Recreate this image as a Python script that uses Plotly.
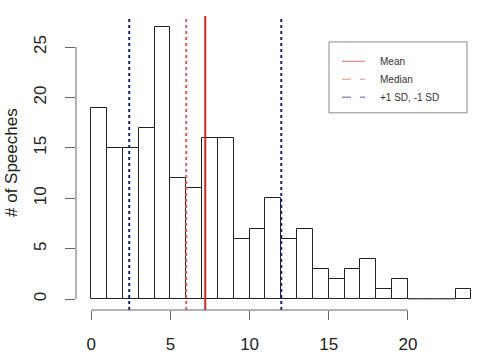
import plotly.graph_objects as go

# ---- data ----
bin_edges = list(range(0, 25))
counts = [19, 15, 15, 17, 27, 12, 11, 16, 16, 6, 7, 10, 6, 7, 3, 2, 3, 4, 1, 2, 0, 0, 0, 1]
mean_val = 7.2
median_val = 6.0
sd_low = 2.4
sd_high = 12.0
x_ticks = [0, 5, 10, 15, 20]
y_ticks = [0, 5, 10, 15, 20, 25]
legend_labels = ["Mean", "Median", "+1 SD, -1 SD"]

centers = [(bin_edges[i] + bin_edges[i + 1]) / 2 for i in range(len(counts))]
widths = [bin_edges[i + 1] - bin_edges[i] for i in range(len(counts))]

FONT = "Liberation Sans, Arial, Helvetica, sans-serif"
MEAN_C = "#cc2a2a"
MED_C = "#e05a5a"
SD_C = "#1b1f7a"
AX_C = "#666666"

fig = go.Figure()
fig.add_trace(go.Bar(
    x=centers, y=counts, width=widths,
    marker=dict(color="white", line=dict(color="#222222", width=1)),
    showlegend=False, hoverinfo="skip",
))
# empty bins are drawn as a flat outline at zero, like R's hist()
for i, c in enumerate(counts):
    if c == 0:
        fig.add_trace(go.Scatter(
            x=[bin_edges[i], bin_edges[i + 1]], y=[c, c], mode="lines",
            line=dict(color="#888888", width=1), showlegend=False, hoverinfo="skip"))

shapes = []
# vertical reference lines spanning plot region
for xv, col, dash in [(sd_low, SD_C, "dot"), (sd_high, SD_C, "dot"),
                      (median_val, MED_C, "dot"), (mean_val, MEAN_C, "solid")]:
    shapes.append(dict(type="line", xref="x", yref="paper", x0=xv, x1=xv, y0=0, y1=1,
                       line=dict(color=col, width=2, dash=dash), layer="above"))
# R-style axis lines
shapes.append(dict(type="line", xref="x", yref="paper", x0=x_ticks[0], x1=x_ticks[-1], y0=0, y1=0,
                   line=dict(color=AX_C, width=1)))
shapes.append(dict(type="line", xref="paper", yref="y", x0=0, x1=0, y0=y_ticks[0], y1=y_ticks[-1],
                   line=dict(color=AX_C, width=1)))

# manual legend (paper coords)
def px_x(p):
    return (p - 76) / 402

def px_y(p):
    return (310.2 - p) / 294.5

shapes.append(dict(type="rect", xref="paper", yref="paper",
                   x0=px_x(329), x1=px_x(467), y0=px_y(112.7), y1=px_y(41.7),
                   line=dict(color="#888888", width=1), fillcolor="white", layer="above"))
annotations = []
leg_styles = [(MEAN_C, "solid"), (MED_C, "dash"), (SD_C, "dash")]
for i, (lab, (col, dash)) in enumerate(zip(legend_labels, leg_styles)):
    yy = px_y(61 + 18 * i)
    shapes.append(dict(type="line", xref="paper", yref="paper",
                       x0=px_x(342), x1=px_x(365), y0=yy, y1=yy,
                       line=dict(color=col, width=1, dash=dash), layer="above", opacity=0.7))
    annotations.append(dict(xref="paper", yref="paper", x=px_x(378), y=yy, text=lab,
                            showarrow=False, xanchor="left", yanchor="middle",
                            font=dict(family=FONT, size=10, color="#333333")))

annotations.append(dict(xref="paper", yref="paper", x=px_x(11), y=0.5, text="# of Speeches",
                        textangle=-90, showarrow=False, xanchor="center", yanchor="middle",
                        font=dict(family=FONT, size=17, color="#222222")))

fig.update_layout(
    width=478, height=362,
    margin=dict(l=76, r=0, t=16, b=52),
    paper_bgcolor="white", plot_bgcolor="white",
    bargap=0,
    shapes=shapes, annotations=annotations,
    font=dict(family=FONT, color="#222222"),
    xaxis=dict(range=[-0.96, 24.42], showgrid=False, zeroline=False, showline=False,
               tickmode="array", tickvals=x_ticks, ticks="outside", ticklen=9,
               tickcolor=AX_C, tickfont=dict(size=17, color="#222222"),
               ticklabelstandoff=10),
    yaxis=dict(range=[-1.08, 28.08], showgrid=False, zeroline=False, showline=False,
               tickmode="array", tickvals=y_ticks, ticks="outside", ticklen=10,
               tickcolor=AX_C, tickangle=-90, tickfont=dict(size=17, color="#222222"),
               ticklabelstandoff=12),
)

fig.write_html("out.html")
